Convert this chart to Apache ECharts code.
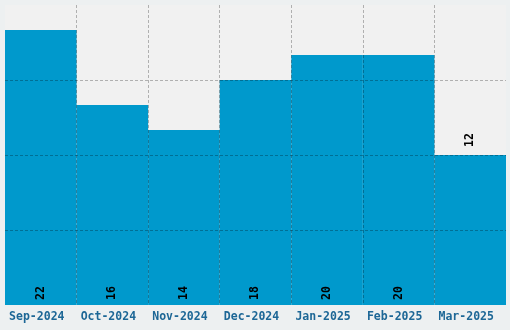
<!DOCTYPE html>
<html><head><meta charset="utf-8">
<script src="https://cdn.jsdelivr.net/npm/echarts@6/dist/echarts.min.js"></script>
<style>html,body{margin:0;padding:0;background:#edf0f1;}#c{width:510px;height:330px;}</style>
</head><body><div id="c"></div>
<script>
var categories = ["Sep-2024","Oct-2024","Nov-2024","Dec-2024","Jan-2025","Feb-2025","Mar-2025"];
var values = [22, 16, 14, 18, 20, 20, 12];
var outsideLabelIndex = [6];

var chart = echarts.init(document.getElementById('c'), null, {renderer:'canvas'});
var data = values.map(function(v, i){
  var item = {value: v};
  if (outsideLabelIndex.indexOf(i) >= 0) {
    item.label = {position: 'top', distance: 8};
  }
  return item;
});
var split = {show:true, showMinLine:false, showMaxLine:false,
  lineStyle:{color:'rgba(0,0,0,0.27)', type:[3,2], width:1}};
chart.setOption({
  backgroundColor:'#edf0f1',
  animation:false,
  grid:{left:5, right:4, top:5, bottom:25, show:true, backgroundColor:'#f1f1f1', borderWidth:0},
  xAxis:{type:'category', data:categories, z:5,
    axisLine:{show:false}, axisTick:{show:false},
    axisLabel:{color:'#1d6796', fontFamily:'DejaVu Sans Mono', fontWeight:'bold', fontSize:11.5, margin:6, interval:0, padding:[0,8,0,0]},
    splitLine:split},
  yAxis:{type:'value', min:0, max:24, interval:6, z:5,
    axisLine:{show:false}, axisTick:{show:false}, axisLabel:{show:false},
    splitLine:split},
  series:[{type:'bar', data:data, barCategoryGap:0, barGap:0,
    itemStyle:{color:'#0099cc'},
    label:{show:true, position:'insideBottom', rotate:90, align:'left', verticalAlign:'middle', distance:5,
      color:'#000', fontFamily:'DejaVu Sans Mono', fontWeight:'bold', fontSize:11.5}}]
});
</script></body></html>
